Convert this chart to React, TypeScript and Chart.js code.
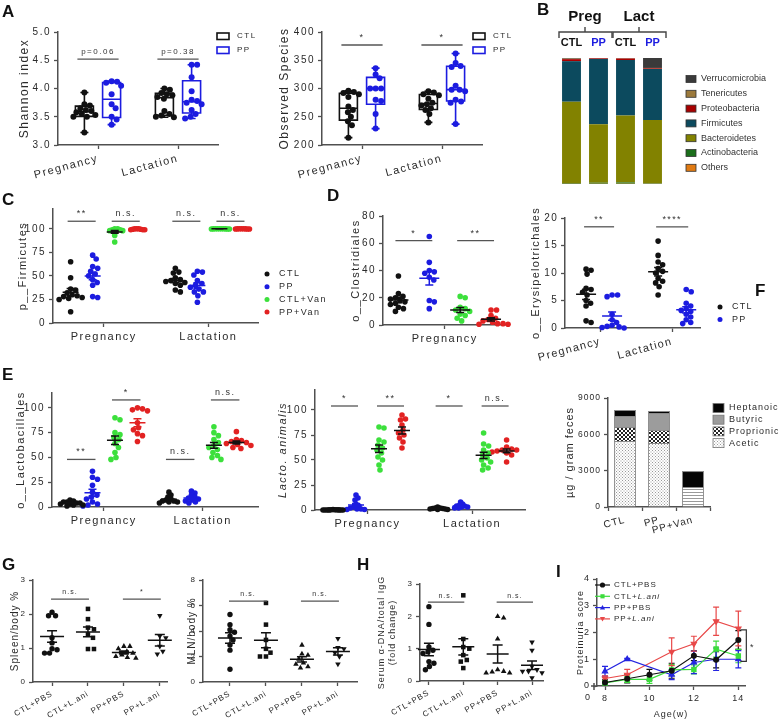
import React, { useEffect, useRef } from "react";
import { Chart, registerables } from "chart.js";
Chart.register(...registerables);

const FONT = "'Liberation Sans', Arial, Helvetica, sans-serif";
const NARROW = "'Liberation Sans Narrow', 'Arial Narrow', 'Liberation Sans', Arial, sans-serif";
const AX = "#505050";
const TXT = "#2a2a2a";
const BLACK = "#111111";
const BLUE = "#1c1ce0";
const GREEN = "#3ce03c";
const RED = "#e22222";

// ---------------- DATA ----------------
const phaseLabels = ["Pregnancy", "Lactation"];
const ctlPpLabels = ["CTL", "PP"];
const vanLabels = ["CTL", "PP", "CTL+Van", "PP+Van"];
const treatLabels = ["CTL+PBS", "CTL+L.ani", "PP+PBS", "PP+L.ani"];

// A: Shannon index
const shannonPregCTL = [3.93, 3.72, 3.7, 3.65, 3.62, 3.6, 3.58, 3.55, 3.53, 3.5, 3.5, 3.22];
const shannonPregPP = [4.13, 4.12, 4.1, 4.05, 3.9, 3.72, 3.65, 3.5, 3.45, 3.36];
const shannonLactCTL = [4.0, 3.98, 3.92, 3.9, 3.88, 3.85, 3.82, 3.6, 3.55, 3.52, 3.5, 3.49];
const shannonLactPP = [4.42, 4.42, 4.2, 3.95, 3.8, 3.78, 3.75, 3.72, 3.62, 3.55, 3.5, 3.47];
const shannonTicks = [3.0, 3.5, 4.0, 4.5, 5.0];
// A: Observed species
const speciesPregCTL = [296, 294, 292, 290, 285, 268, 262, 258, 250, 242, 235, 213];
const speciesPregPP = [336, 325, 318, 300, 300, 300, 280, 278, 255, 229];
const speciesLactCTL = [295, 293, 290, 288, 282, 275, 272, 270, 265, 262, 255, 240];
const speciesLactPP = [362, 345, 340, 338, 305, 298, 298, 295, 280, 277, 275, 237];
const speciesTicks = [200, 250, 300, 350, 400];

// B: phylum composition (%)
const phylumBars = ["CTL", "PP", "CTL", "PP"];
const phylumNames = ["Others", "Actinobacteria", "Bacteroidetes", "Firmicutes", "Proteobacteria", "Tenericutes", "Verrucomicrobia"];
const phylumOthers = [0.2, 0.2, 0.2, 0.2];
const phylumActino = [0.6, 0.8, 1.0, 0.5];
const phylumBactero = [64.5, 46.5, 53.2, 50.0];
const phylumFirmi = [32.2, 51.7, 44.0, 40.5];
const phylumProteo = [1.6, 0.5, 1.2, 0.6];
const phylumTeneri = [0.4, 0.1, 0.2, 0.3];
const phylumVerruco = [0.5, 0.2, 0.2, 7.9];
const phylumColors = ["#e07a12", "#1b6e1b", "#828200", "#0c4a5e", "#a80000", "#9c7a3c", "#3a3a3a"];

// C: p__Firmicutes
const firmPregCTL = [65, 48, 36, 35, 32, 30, 29, 28, 27, 26, 25, 12];
const firmPregPP = [72, 68, 60, 58, 55, 52, 50, 46, 43, 40, 28, 27];
const firmPregCTLVan = [100, 100, 99, 99, 98, 98, 97, 93, 86];
const firmPregPPVan = [100, 100, 100, 99.5, 99.5, 99, 99, 99];
const firmLactCTL = [58, 54, 53, 48, 46, 45, 44, 43, 42, 40, 35, 33];
const firmLactPP = [55, 54, 51, 45, 42, 40, 38, 36, 33, 33, 29, 22];
const firmLactCTLVan = [100, 100, 99.8, 99.9, 100, 99.7, 100, 99.9, 100, 99.8];
const firmLactPPVan = [100, 99.9, 99.8, 100, 99.7, 99.9, 100, 99.8];
const pctTicks = [0, 25, 50, 75, 100];

// D: o__Clostridiales (pregnancy)
const closPregCTL = [36, 23, 21, 20, 19, 18, 17, 16, 15, 13, 12, 10];
const closPregPP = [65, 46, 40, 39, 38, 35, 33, 18, 17, 12];
const closPregCTLVan = [21, 20, 13, 12, 11, 10, 8, 7, 5, 3];
const closPregPPVan = [11, 11, 7, 5, 4, 3, 2, 1, 1, 0.5, 0.5];
const closTicks = [0, 20, 40, 60, 80];
// D: o__Erysipelotrichales
const eryPregCTL = [10.7, 10.5, 9.8, 7.2, 7.0, 6.5, 6.0, 5.0, 4.5, 4.0, 1.3, 1.0];
const eryPregPP = [6.0, 6.0, 5.7, 2.5, 1.5, 1.0, 0.5, 0.3, 0.2, 0.1, 0];
const eryLactCTL = [15.8, 13.2, 12.0, 11.5, 10.8, 10.3, 10.0, 9.0, 8.5, 8.2, 7.5, 6.0];
const eryLactPP = [7.0, 6.6, 4.5, 4.0, 3.5, 3.2, 3.0, 2.5, 2.0, 1.5, 1.0, 0.8];
const eryTicks = [0, 5, 10, 15, 20];

// E: o__Lactobacillales
const lactoPregCTL = [7, 6, 5, 5, 4, 4, 3, 3, 2, 2, 1];
const lactoPregPP = [36, 30, 28, 22, 15, 12, 10, 8, 5, 3, 2, 1];
const lactoPregCTLVan = [90, 88, 75, 73, 70, 68, 64, 60, 55, 50, 48];
const lactoPregPPVan = [100, 99, 98, 97, 85, 80, 78, 74, 72, 66];
const lactoLactCTL = [15, 12, 10, 8, 7, 6, 6, 5, 5, 4];
const lactoLactPP = [16, 14, 12, 10, 9, 8, 7, 6, 5, 4];
const lactoLactCTLVan = [81, 75, 72, 68, 65, 62, 60, 58, 55, 52, 50, 48];
const lactoLactPPVan = [76, 68, 67, 66, 65, 64, 63, 62, 60, 59];
// E: Lacto. animalis
const animPregCTL = [0.5, 0.3, 0.2, 0.2, 0.1, 0.1, 0, 0, 0, 0, 0];
const animPregPP = [15, 12, 10, 6, 4, 3, 2, 1, 1, 0.5, 0.5];
const animPregCTLVan = [83, 82, 70, 68, 65, 62, 60, 57, 53, 50, 45, 40];
const animPregPPVan = [95, 91, 90, 85, 80, 77, 75, 72, 68, 62];
const animLactCTL = [3, 2, 2, 1.5, 1.5, 1, 1, 0.5, 0.5];
const animLactPP = [8, 6, 5, 4, 4, 3, 3, 2, 2];
const animLactCTLVan = [77, 66, 64, 60, 57, 55, 52, 50, 48, 45, 42, 40];
const animLactPPVan = [70, 63, 61, 60, 60, 59, 58, 57, 55, 48];

// F: short chain fatty acids (ug / gram feces)
const scfaGroups = ["CTL", "PP", "PP+Van"];
const scfaAcetic = [5450, 5285, 1650];
const scfaProprionic = [1155, 1075, 0];
const scfaButyric = [910, 1400, 0];
const scfaHeptanoic = [495, 165, 1320];
const scfaTicks = [0, 3000, 6000, 9000];

// G: spleen / body %
const spleenCtlPbs = [2.05, 1.95, 1.95, 1.3, 1.15, 0.98, 0.95, 0.85, 0.85];
const spleenCtlLani = [2.15, 1.85, 1.6, 1.55, 1.4, 1.3, 0.97, 0.97];
const spleenPpPbs = [1.05, 1.05, 0.98, 0.9, 0.85, 0.8, 0.75, 0.72, 0.7];
const spleenPpLani = [1.95, 1.35, 1.3, 1.05, 0.9, 0.82];
// G: MLN / body %
const mlnCtlPbs = [5.3, 4.5, 4.1, 3.9, 3.6, 3.3, 2.9, 2.5, 1.0];
const mlnCtlLani = [6.2, 4.5, 3.3, 2.6, 2.3, 2.0, 2.0];
const mlnPpPbs = [2.9, 2.2, 2.1, 1.8, 1.5, 1.4, 1.2, 1.1];
const mlnPpLani = [3.4, 2.7, 2.6, 2.3, 2.0, 1.4];

// H: serum anti-dsDNA / total IgG (fold change)
const dnaCtlPbs = [2.3, 1.75, 1.05, 0.95, 0.9, 0.85, 0.6, 0.55, 0.45, 0.35];
const dnaCtlLani = [2.65, 1.3, 1.05, 1.0, 0.8, 0.65, 0.6, 0.4];
const dnaPpPbs = [2.0, 1.95, 1.3, 0.35, 0.3, 0.25, 0.25, 0.28];
const dnaPpLani = [1.2, 0.95, 0.45, 0.35, 0.3, 0.3, 0.25, 0.1];

// I: proteinuria score
const ageWeeks = [8, 9, 10, 11, 12, 13, 14];
const protCtlPbs = [0.13, 0.27, 0.42, 0.57, 1.13, 0.98, 1.72];
const protCtlPbsErr = [0.1, 0.15, 0.2, 0.28, 0.18, 0.3, 0.35];
const protCtlLani = [0.12, 0.25, 0.25, 0.6, 0.62, 1.38, 1.12];
const protCtlLaniErr = [0.08, 0.12, 0.15, 0.2, 0.17, 0.3, 0.25];
const protPpPbs = [0.55, 1.0, null, 0.42, 0.88, 1.0, 1.0];
const protPpPbsErr = [0.18, 0.03, null, 0.18, 0.42, 0.42, 0.32];
const protPpLani = [0.28, 0.42, null, 1.28, 1.58, 2.42, 2.15];
const protPpLaniErr = [0.1, 0.2, null, 0.52, 0.28, 0.53, 0.65];
const ageTicks = [8, 10, 12, 14];
const scoreTicks = [0, 1, 2, 3, 4];

// ---------------- HELPERS ----------------
type Frame = { L: number; T: number; R: number; B: number; yw: number; xh: number; pt: number; pr: number };
type Rect = { x: number; y: number; w: number; h: number };
const rectOf = (f: Frame): Rect => ({ x: f.L - f.yw, y: f.T - f.pt, w: f.R - f.L + f.yw + f.pr, h: f.B - f.T + f.pt + f.xh });

const fnt = (size: number, o: { bold?: boolean; italic?: boolean; family?: string } = {}) =>
  `${o.italic ? "italic " : ""}${o.bold ? "bold " : ""}${size}px ${o.family || FONT}`;

function txt(ctx: any, s: string, x: number, y: number, f: string, color = TXT, align = "left", base = "middle") {
  ctx.save();
  ctx.font = f;
  ctx.fillStyle = color;
  ctx.textAlign = align;
  ctx.textBaseline = base;
  ctx.fillText(s, x, y);
  ctx.restore();
}

function rich(ctx: any, parts: [string, boolean][], x: number, y: number, size: number, color = TXT) {
  let cx = x;
  ctx.save();
  ctx.fillStyle = color;
  ctx.textAlign = "left";
  ctx.textBaseline = "middle";
  for (const [t, it] of parts) {
    ctx.font = fnt(size, { italic: it });
    ctx.fillText(t, cx, y);
    cx += ctx.measureText(t).width;
  }
  ctx.restore();
}

function drawMarker(ctx: any, shape: string, x: number, y: number, r: number, color: string, rot = 0) {
  ctx.save();
  ctx.fillStyle = color;
  ctx.beginPath();
  if (shape === "rect") ctx.rect(x - r * 0.8, y - r * 0.8, r * 1.6, r * 1.6);
  else if (shape === "triangle") {
    const s = rot ? -1 : 1;
    ctx.moveTo(x, y - s * r);
    ctx.lineTo(x + r, y + s * r * 0.75);
    ctx.lineTo(x - r, y + s * r * 0.75);
    ctx.closePath();
  } else ctx.arc(x, y, r, 0, Math.PI * 2);
  ctx.fill();
  ctx.restore();
}

const spacing = (ls: number) => ({
  id: "letterSpacing",
  beforeUpdate(chart: any) { chart.ctx.letterSpacing = ls + "px"; },
  beforeLayout(chart: any) { chart.ctx.letterSpacing = ls + "px"; },
  beforeDraw(chart: any) { chart.ctx.letterSpacing = ls + "px"; },
});

const gridOpts = { drawOnChartArea: false, drawTicks: true, tickLength: 4, color: AX, tickColor: AX, tickWidth: 1.3 };
const borderOpts = { display: true, color: AX, width: 1.5 };

function yScale(f: Frame, min: number, max: number, ticks: number[], fmt: (v: number) => string, size: number,
  title: string | string[], titleSize: number, italic = false) {
  return {
    type: "linear", position: "left", min, max,
    afterBuildTicks: (s: any) => { s.ticks = ticks.map((v) => ({ value: v })); },
    afterFit: (s: any) => { s.width = f.yw; s.paddingTop = 0; s.paddingBottom = 0; },
    ticks: { font: { family: FONT, size }, color: TXT, padding: 3, callback: (v: any) => fmt(Number(v)) },
    grid: gridOpts, border: borderOpts,
    title: { display: true, text: title, color: TXT, font: { family: FONT, size: titleSize, style: italic ? "italic" : "normal" }, padding: { top: 4, bottom: 4 } },
  };
}

function xLinear(f: Frame, min: number, max: number, ticks: { v: number; label: string }[], size: number, rot: number) {
  return {
    type: "linear", position: "bottom", min, max,
    afterBuildTicks: (s: any) => { s.ticks = ticks.map((t) => ({ value: t.v })); },
    afterFit: (s: any) => { s.height = f.xh; s.paddingLeft = 0; s.paddingRight = 0; },
    ticks: { autoSkip: false, minRotation: rot, maxRotation: rot, font: { family: FONT, size }, color: TXT, padding: 3,
      callback: (_v: any, i: number) => (ticks[i] ? ticks[i].label : "") },
    grid: gridOpts, border: borderOpts,
  };
}

const baseOpts = (f: Frame) => ({
  responsive: false, animation: false, events: [],
  layout: { padding: { left: 0, top: f.pt, right: f.pr, bottom: 0 } },
  plugins: { legend: { display: false }, tooltip: { enabled: false }, title: { display: false } },
});

function swarm(values: number[], pxPerY: number, r: number, gap: number): number[] {
  const order = values.map((_, i) => i).sort((a, b) => values[b] - values[a]);
  const placed: { x: number; y: number }[] = [];
  const out = values.map(() => 0);
  const d = 2 * r * gap;
  for (const i of order) {
    const y = values[i] * pxPerY;
    let chosen = 0;
    for (let k = 0; k < 160; k++) {
      const cand = (k % 2 === 1 ? 1 : -1) * Math.ceil(k / 2) * 0.5;
      if (placed.every((p) => (p.x - cand) ** 2 + (p.y - y) ** 2 >= d * d)) { chosen = cand; break; }
    }
    placed.push({ x: chosen, y });
    out[i] = chosen;
  }
  return out;
}

function meanSem(v: number[]) {
  const n = v.length;
  const m = v.reduce((a, b) => a + b, 0) / n;
  const sd = Math.sqrt(v.reduce((a, b) => a + (b - m) ** 2, 0) / (n - 1));
  return { m, se: sd / Math.sqrt(n) };
}
function quart(sorted: number[], p: number) {
  const pos = (sorted.length + 1) * p;
  const lo = Math.floor(pos);
  const fr = pos - lo;
  if (lo < 1) return sorted[0];
  if (lo >= sorted.length) return sorted[sorted.length - 1];
  return sorted[lo - 1] + fr * (sorted[lo] - sorted[lo - 1]);
}
function boxStats(v: number[]) {
  const s = [...v].sort((a, b) => a - b);
  return { min: s[0], max: s[s.length - 1], q1: quart(s, 0.25), med: quart(s, 0.5), q3: quart(s, 0.75) };
}

type Group = { values: number[]; color: string; shape?: string; rot?: number; mean?: string; gap?: number; r?: number };
type Sig = { a: number; b: number; y: number; t: string };
type DotSpec = {
  frame: Frame; xMin: number; xMax: number; yMin: number; yMax: number; yTicks: number[]; yFmt?: (v: number) => string;
  xPos: number[]; xTicks: { v: number; label: string }[]; xRot: number; xSize: number; tickSize: number;
  groups: Group[]; r: number; box?: boolean; boxW?: number; meanW?: number; capW?: number;
  sig: Sig[]; sigPad: number; sigSize: number;
  yTitle: string | string[]; titleSize: number; titleItalic?: boolean; ls: number;
  extra?: (ctx: any) => void;
};

function dotConfig(s: DotSpec) {
  const f = s.frame;
  const rc = rectOf(f);
  const pxX = (f.R - f.L) / (s.xMax - s.xMin);
  const pxY = (f.B - f.T) / (s.yMax - s.yMin);
  const datasets = s.groups.map((g, gi) => {
    const r = g.r ?? s.r;
    const off = swarm(g.values, pxY, r, g.gap ?? 0.9);
    return {
      data: g.values.map((v, i) => ({ x: s.xPos[gi] + off[i] / pxX, y: v })),
      backgroundColor: g.color, borderColor: g.color, borderWidth: 0,
      pointRadius: r, pointHoverRadius: r, pointStyle: g.shape ?? "circle", pointRotation: g.rot ?? 0, clip: false,
    };
  });
  const deco = {
    id: "deco",
    beforeDatasetsDraw(chart: any) {
      if (!s.box) return;
      const ctx = chart.ctx, xs = chart.scales.x, ys = chart.scales.y;
      ctx.save();
      ctx.lineWidth = 1.6;
      s.groups.forEach((g, gi) => {
        const st = boxStats(g.values);
        const cx = xs.getPixelForValue(s.xPos[gi]);
        const hw = (s.boxW ?? 18) / 2;
        const y = (v: number) => ys.getPixelForValue(v);
        ctx.strokeStyle = g.color;
        ctx.beginPath();
        ctx.rect(cx - hw, y(st.q3), 2 * hw, y(st.q1) - y(st.q3));
        ctx.moveTo(cx - hw, y(st.med)); ctx.lineTo(cx + hw, y(st.med));
        ctx.moveTo(cx, y(st.q3)); ctx.lineTo(cx, y(st.max));
        ctx.moveTo(cx, y(st.q1)); ctx.lineTo(cx, y(st.min));
        ctx.moveTo(cx - 4, y(st.max)); ctx.lineTo(cx + 4, y(st.max));
        ctx.moveTo(cx - 4, y(st.min)); ctx.lineTo(cx + 4, y(st.min));
        ctx.stroke();
      });
      ctx.restore();
    },
    afterDatasetsDraw(chart: any) {
      const ctx = chart.ctx, xs = chart.scales.x, ys = chart.scales.y;
      ctx.save();
      if (!s.box) {
        ctx.lineWidth = 1.5;
        s.groups.forEach((g, gi) => {
          const { m, se } = meanSem(g.values);
          const cx = xs.getPixelForValue(s.xPos[gi]);
          const mw = s.meanW ?? 9, cw = s.capW ?? 4;
          const ym = ys.getPixelForValue(m), y1 = ys.getPixelForValue(m + se), y2 = ys.getPixelForValue(m - se);
          ctx.strokeStyle = g.mean ?? g.color;
          ctx.beginPath();
          ctx.moveTo(cx - mw, ym); ctx.lineTo(cx + mw, ym);
          ctx.moveTo(cx, y1); ctx.lineTo(cx, y2);
          ctx.moveTo(cx - cw, y1); ctx.lineTo(cx + cw, y1);
          ctx.moveTo(cx - cw, y2); ctx.lineTo(cx + cw, y2);
          ctx.stroke();
        });
      }
      ctx.lineWidth = 1.3;
      ctx.strokeStyle = "#555";
      s.sig.forEach((q) => {
        const x1 = xs.getPixelForValue(s.xPos[q.a]) - s.sigPad;
        const x2 = xs.getPixelForValue(s.xPos[q.b]) + s.sigPad;
        const y = ys.getPixelForValue(q.y);
        ctx.beginPath(); ctx.moveTo(x1, y); ctx.lineTo(x2, y); ctx.stroke();
        txt(ctx, q.t, (x1 + x2) / 2, y - 3, fnt(s.sigSize), "#333", "center", "bottom");
      });
      if (s.extra) {
        ctx.translate(-rc.x, -rc.y);
        s.extra(ctx);
      }
      ctx.restore();
    },
  };
  return {
    type: "scatter",
    data: { datasets },
    options: {
      ...baseOpts(f),
      scales: {
        x: xLinear(f, s.xMin, s.xMax, s.xTicks, s.xSize, s.xRot),
        y: yScale(f, s.yMin, s.yMax, s.yTicks, s.yFmt ?? ((v) => String(v)), s.tickSize, s.yTitle, s.titleSize, !!s.titleItalic),
      },
    },
    plugins: [spacing(s.ls), deco],
  };
}

function boxLegend(ctx: any, x: number, y: number) {
  ctx.save();
  ctx.lineWidth = 1.6;
  [[ctlPpLabels[0], BLACK], [ctlPpLabels[1], BLUE]].forEach(([lab, col], i) => {
    ctx.strokeStyle = col;
    ctx.strokeRect(x, y + i * 14 - 3, 12, 6.5);
    txt(ctx, lab, x + 20, y + i * 14, fnt(8), TXT);
  });
  ctx.restore();
}

function dotLegend(ctx: any, labels: string[], colors: string[], x: number, y: number, dy: number, size: number) {
  labels.forEach((lab, i) => {
    drawMarker(ctx, "circle", x, y + i * dy, 2.5, colors[i]);
    txt(ctx, lab, x + 12, y + i * dy, fnt(size), TXT);
  });
}

// ---------------- FRAMES ----------------
const fA1: Frame = { L: 58, T: 32, R: 218, B: 145, yw: 45, xh: 40, pt: 12, pr: 50 };
const fA2: Frame = { L: 322, T: 32, R: 482, B: 145, yw: 49, xh: 40, pt: 12, pr: 50 };
const fC: Frame = { L: 53, T: 209, R: 258, B: 323, yw: 41, xh: 28, pt: 8, pr: 80 };
const fD1: Frame = { L: 383, T: 216, R: 508, B: 325, yw: 38, xh: 26, pt: 8, pr: 8 };
const fD2: Frame = { L: 565, T: 218, R: 700, B: 328, yw: 40, xh: 40, pt: 22, pr: 70 };
const fE1: Frame = { L: 52, T: 393, R: 258, B: 507, yw: 42, xh: 26, pt: 8, pr: 8 };
const fE2: Frame = { L: 315, T: 390, R: 525, B: 510, yw: 43, xh: 26, pt: 8, pr: 8 };
const fF: Frame = { L: 608, T: 398, R: 710, B: 507, yw: 49, xh: 40, pt: 8, pr: 68 };
const fG1: Frame = { L: 33, T: 580, R: 167, B: 682, yw: 28, xh: 40, pt: 8, pr: 5 };
const fG2: Frame = { L: 203, T: 580, R: 357, B: 682, yw: 21, xh: 40, pt: 8, pr: 5 };
const fH: Frame = { L: 420, T: 584, R: 543, B: 681, yw: 48, xh: 40, pt: 8, pr: 5 };
const fI: Frame = { L: 597, T: 579, R: 745, B: 686, yw: 26, xh: 36, pt: 8, pr: 33 };

const boxPos = [1 - 0.34, 1 + 0.34, 3 - 0.34, 3 + 0.34];
const phaseTicks2 = [{ v: 1, label: phaseLabels[0] }, { v: 3, label: phaseLabels[1] }];

const makeA1 = () => dotConfig({
  frame: fA1, xMin: 0, xMax: 4, yMin: 3, yMax: 5, yTicks: shannonTicks, yFmt: (v) => v.toFixed(1),
  xPos: boxPos, xTicks: phaseTicks2, xRot: 15, xSize: 11, tickSize: 10,
  groups: [
    { values: shannonPregCTL, color: BLACK }, { values: shannonPregPP, color: BLUE },
    { values: shannonLactCTL, color: BLACK }, { values: shannonLactPP, color: BLUE },
  ],
  r: 3, box: true, boxW: 18,
  sig: [{ a: 0, b: 1, y: 4.52, t: "p=0.06" }, { a: 2, b: 3, y: 4.52, t: "p=0.38" }], sigPad: 7, sigSize: 8,
  yTitle: "Shannon index", titleSize: 12, ls: 1.5,
  extra: (ctx) => boxLegend(ctx, 217, 36),
});

const makeA2 = () => dotConfig({
  frame: fA2, xMin: 0, xMax: 4, yMin: 200, yMax: 400, yTicks: speciesTicks,
  xPos: boxPos, xTicks: phaseTicks2, xRot: 15, xSize: 11, tickSize: 10,
  groups: [
    { values: speciesPregCTL, color: BLACK }, { values: speciesPregPP, color: BLUE },
    { values: speciesLactCTL, color: BLACK }, { values: speciesLactPP, color: BLUE },
  ],
  r: 3, box: true, boxW: 18,
  sig: [{ a: 0, b: 1, y: 377, t: "*" }, { a: 2, b: 3, y: 377, t: "*" }], sigPad: 7, sigSize: 9,
  yTitle: "Observed Species", titleSize: 12, ls: 1.5,
  extra: (ctx) => boxLegend(ctx, 473, 36),
});

const vanColors = [BLACK, BLUE, GREEN, RED];

const makeC = () => dotConfig({
  frame: fC, xMin: 0.2, xMax: 9.5, yMin: 0, yMax: 121, yTicks: pctTicks,
  xPos: [1, 2, 3, 4, 5.75, 6.75, 7.75, 8.75],
  xTicks: [{ v: 2.5, label: phaseLabels[0] }, { v: 7.25, label: phaseLabels[1] }], xRot: 0, xSize: 11, tickSize: 10,
  groups: [
    { values: firmPregCTL, color: BLACK }, { values: firmPregPP, color: BLUE },
    { values: firmPregCTLVan, color: GREEN, mean: BLACK, gap: 0.45 }, { values: firmPregPPVan, color: RED, gap: 0.35 },
    { values: firmLactCTL, color: BLACK }, { values: firmLactPP, color: BLUE },
    { values: firmLactCTLVan, color: GREEN, mean: BLACK, gap: 0.3 }, { values: firmLactPPVan, color: RED, gap: 0.3 },
  ],
  r: 2.8, meanW: 8, capW: 4,
  sig: [{ a: 0, b: 1, y: 108, t: "**" }, { a: 2, b: 3, y: 108, t: "n.s." }, { a: 4, b: 5, y: 108, t: "n.s." }, { a: 6, b: 7, y: 108, t: "n.s." }],
  sigPad: 3, sigSize: 9,
  yTitle: "p__Firmicutes", titleSize: 11, ls: 1.5,
  extra: (ctx) => dotLegend(ctx, vanLabels, vanColors, 267, 274, 12.7, 9),
});

const makeD1 = () => dotConfig({
  frame: fD1, xMin: 0.5, xMax: 4.55, yMin: 0, yMax: 80, yTicks: closTicks,
  xPos: [1, 2, 3, 4], xTicks: [{ v: 2.5, label: phaseLabels[0] }], xRot: 0, xSize: 11, tickSize: 10,
  groups: [
    { values: closPregCTL, color: BLACK }, { values: closPregPP, color: BLUE },
    { values: closPregCTLVan, color: GREEN, mean: BLACK }, { values: closPregPPVan, color: RED, mean: BLACK },
  ],
  r: 2.8, meanW: 10, capW: 4,
  sig: [{ a: 0, b: 1, y: 62, t: "*" }, { a: 2, b: 3, y: 62, t: "**" }], sigPad: 3, sigSize: 9,
  yTitle: "o__Clostridiales", titleSize: 11, ls: 1.5,
});

const makeD2 = () => dotConfig({
  frame: fD2, xMin: 0.19, xMax: 5.38, yMin: 0, yMax: 20, yTicks: eryTicks,
  xPos: [1, 2, 3.77, 4.85],
  xTicks: [{ v: 1.55, label: phaseLabels[0] }, { v: 4.31, label: phaseLabels[1] }], xRot: 15, xSize: 11, tickSize: 10,
  groups: [
    { values: eryPregCTL, color: BLACK }, { values: eryPregPP, color: BLUE },
    { values: eryLactCTL, color: BLACK }, { values: eryLactPP, color: BLUE },
  ],
  r: 2.8, meanW: 10, capW: 4,
  sig: [{ a: 0, b: 1, y: 18.4, t: "**" }, { a: 2, b: 3, y: 18.4, t: "****" }], sigPad: 2, sigSize: 9,
  yTitle: "o__Erysipelotrichales", titleSize: 11, ls: 1.3,
  extra: (ctx) => dotLegend(ctx, ctlPpLabels, [BLACK, BLUE], 720, 307, 12.5, 9),
});

const makeE1 = () => dotConfig({
  frame: fE1, xMin: 0.2, xMax: 9.36, yMin: 0, yMax: 115, yTicks: pctTicks,
  xPos: [1, 2, 3, 4, 5.4, 6.4, 7.4, 8.4],
  xTicks: [{ v: 2.5, label: phaseLabels[0] }, { v: 6.9, label: phaseLabels[1] }], xRot: 0, xSize: 11, tickSize: 10,
  groups: [
    { values: lactoPregCTL, color: BLACK, gap: 0.6 }, { values: lactoPregPP, color: BLUE },
    { values: lactoPregCTLVan, color: GREEN, mean: BLACK }, { values: lactoPregPPVan, color: RED },
    { values: lactoLactCTL, color: BLACK, gap: 0.6 }, { values: lactoLactPP, color: BLUE, gap: 0.7 },
    { values: lactoLactCTLVan, color: GREEN, mean: BLACK }, { values: lactoLactPPVan, color: RED, mean: BLACK },
  ],
  r: 2.8, meanW: 8, capW: 4,
  sig: [{ a: 0, b: 1, y: 48, t: "**" }, { a: 2, b: 3, y: 108, t: "*" }, { a: 4, b: 5, y: 48, t: "n.s." }, { a: 6, b: 7, y: 108, t: "n.s." }],
  sigPad: 3, sigSize: 9,
  yTitle: "o__Lactobacillales", titleSize: 11, ls: 1.5,
});

const makeE2 = () => dotConfig({
  frame: fE2, xMin: 0.217, xMax: 9.35, yMin: 0, yMax: 120, yTicks: pctTicks,
  xPos: [1, 2, 3, 4, 5.55, 6.55, 7.55, 8.55],
  xTicks: [{ v: 2.5, label: phaseLabels[0] }, { v: 7.05, label: phaseLabels[1] }], xRot: 0, xSize: 11, tickSize: 10,
  groups: [
    { values: animPregCTL, color: BLACK, gap: 0.35 }, { values: animPregPP, color: BLUE, gap: 0.6 },
    { values: animPregCTLVan, color: GREEN, mean: BLACK }, { values: animPregPPVan, color: RED, mean: BLACK },
    { values: animLactCTL, color: BLACK, gap: 0.4 }, { values: animLactPP, color: BLUE, gap: 0.5 },
    { values: animLactCTLVan, color: GREEN, mean: BLACK }, { values: animLactPPVan, color: RED, mean: BLACK },
  ],
  r: 2.8, meanW: 8, capW: 4,
  sig: [{ a: 0, b: 1, y: 104, t: "*" }, { a: 2, b: 3, y: 104, t: "**" }, { a: 4, b: 5, y: 104, t: "*" }, { a: 6, b: 7, y: 104, t: "n.s." }],
  sigPad: 2, sigSize: 9,
  yTitle: "Lacto. animalis", titleSize: 11, titleItalic: true, ls: 1.5,
});

const treatTicks = treatLabels.map((l, i) => ({ v: i + 1, label: l }));
const treatShapes = (vals: number[][]): Group[] => [
  { values: vals[0], color: BLACK, shape: "circle" },
  { values: vals[1], color: BLACK, shape: "rect", r: 3.2 },
  { values: vals[2], color: BLACK, shape: "triangle", r: 3.2 },
  { values: vals[3], color: BLACK, shape: "triangle", rot: 180, r: 3.2 },
];

const makeG1 = () => dotConfig({
  frame: fG1, xMin: 0.47, xMax: 4.2, yMin: 0, yMax: 3, yTicks: [0, 1, 2, 3],
  xPos: [1, 2, 3, 4], xTicks: treatTicks, xRot: 30, xSize: 8, tickSize: 8,
  groups: treatShapes([spleenCtlPbs, spleenCtlLani, spleenPpPbs, spleenPpLani]),
  r: 2.7, meanW: 12, capW: 5,
  sig: [{ a: 0, b: 1, y: 2.44, t: "n.s." }, { a: 2, b: 3, y: 2.44, t: "*" }], sigPad: 1, sigSize: 7,
  yTitle: "Spleen/body %", titleSize: 10, ls: 1,
});

const makeG2 = () => dotConfig({
  frame: fG2, xMin: 0.25, xMax: 4.53, yMin: 0, yMax: 8, yTicks: [0, 2, 4, 6, 8],
  xPos: [1, 2, 3, 4], xTicks: treatTicks, xRot: 30, xSize: 8, tickSize: 8,
  groups: treatShapes([mlnCtlPbs, mlnCtlLani, mlnPpPbs, mlnPpLani]),
  r: 2.7, meanW: 12, capW: 5,
  sig: [{ a: 0, b: 1, y: 6.35, t: "n.s." }, { a: 2, b: 3, y: 6.35, t: "n.s." }], sigPad: 1, sigSize: 7,
  yTitle: "MLN/body %", titleSize: 10, ls: 1,
});

const makeH = () => dotConfig({
  frame: fH, xMin: 0.74, xMax: 4.32, yMin: 0, yMax: 3, yTicks: [0, 1, 2, 3],
  xPos: [1, 2, 3, 4], xTicks: treatTicks, xRot: 30, xSize: 8, tickSize: 8,
  groups: treatShapes([dnaCtlPbs, dnaCtlLani, dnaPpPbs, dnaPpLani]),
  r: 2.7, meanW: 11, capW: 5,
  sig: [{ a: 0, b: 1, y: 2.44, t: "n.s." }, { a: 2, b: 3, y: 2.44, t: "n.s." }], sigPad: 1, sigSize: 7,
  yTitle: ["Serum \u03b1-DNA/total IgG", "(fold change)"], titleSize: 9, ls: 1,
});

// B: stacked phylum bars
const rB: Rect = { x: 530, y: 0, w: 248, h: 190 };
const makeB = () => {
  const series = [phylumOthers, phylumActino, phylumBactero, phylumFirmi, phylumProteo, phylumTeneri, phylumVerruco];
  const deco = {
    id: "bdeco",
    afterDraw(chart: any) {
      const ctx = chart.ctx, xs = chart.scales.x;
      ctx.save();
      ctx.translate(-rB.x, -rB.y);
      const px = (i: number) => xs.getPixelForValue(i) + rB.x;
      ctx.strokeStyle = "#444";
      ctx.lineWidth = 1.4;
      [[0, 1, "Preg"], [2, 3, "Lact"]].forEach(([a, b, lab]: any) => {
        const x1 = px(a) - 12.5, x2 = px(b) + 13.5, xm = (px(a) + px(b)) / 2;
        ctx.beginPath();
        ctx.moveTo(x1, 38); ctx.lineTo(x1, 32); ctx.lineTo(x2, 32); ctx.lineTo(x2, 38);
        ctx.moveTo(xm, 32); ctx.lineTo(xm, 27);
        ctx.stroke();
        txt(ctx, lab, xm, 17, fnt(15, { bold: true }), "#111", "center");
      });
      const names = [...phylumNames].reverse();
      const cols = [...phylumColors].reverse();
      names.forEach((n, i) => {
        const y = 79 + i * 14.8;
        ctx.fillStyle = cols[i];
        ctx.fillRect(686, y - 3.5, 10, 7);
        ctx.strokeStyle = "#333"; ctx.lineWidth = 0.8;
        ctx.strokeRect(686, y - 3.5, 10, 7);
        txt(ctx, n, 701, y, fnt(9, { family: NARROW }), "#333");
      });
      ctx.restore();
    },
  };
  return {
    type: "bar",
    data: {
      labels: phylumBars,
      datasets: series.map((v, i) => ({ label: phylumNames[i], data: v, backgroundColor: phylumColors[i], borderWidth: 0, barPercentage: 0.7, categoryPercentage: 1 })),
    },
    options: {
      responsive: false, animation: false, events: [],
      layout: { padding: { left: 28, right: 112, top: 0, bottom: 6 } },
      plugins: { legend: { display: false }, tooltip: { enabled: false } },
      scales: {
        x: {
          type: "category", position: "top", stacked: true,
          afterFit: (s: any) => { s.height = 58; s.paddingLeft = 0; s.paddingRight = 0; },
          grid: { display: false, drawTicks: false }, border: { display: false },
          ticks: { autoSkip: false, minRotation: 0, maxRotation: 0, padding: 8, font: { family: FONT, size: 11, weight: "bold" }, color: (c: any) => (c.index % 2 ? BLUE : "#111") },
        },
        y: { stacked: true, display: false, min: 0, max: 100 },
      },
    },
    plugins: [spacing(0), deco],
  };
};

// F: SCFA stacked bars with patterns
function pattern(kind: string) {
  const c = document.createElement("canvas");
  const g = c.getContext("2d") as CanvasRenderingContext2D;
  if (kind === "dots") {
    c.width = 3; c.height = 3;
    g.fillStyle = "#fff"; g.fillRect(0, 0, 3, 3);
    g.fillStyle = "#9a9a9a"; g.fillRect(0, 0, 1, 1); g.fillRect(1.5, 1.5, 1, 1);
  } else if (kind === "check") {
    c.width = 4; c.height = 4;
    g.fillStyle = "#fff"; g.fillRect(0, 0, 4, 4);
    g.fillStyle = "#222"; g.fillRect(0, 0, 2, 2); g.fillRect(2, 2, 2, 2);
  } else {
    c.width = 4; c.height = 3;
    g.fillStyle = "#fff"; g.fillRect(0, 0, 4, 3);
    g.fillStyle = "#999"; g.fillRect(0, 0, 4, 1);
  }
  const p = g.createPattern(c, "repeat");
  return p as any;
}

const makeF = () => {
  const dots = pattern("dots"), check = pattern("check"), lines = pattern("lines");
  const rc = rectOf(fF);
  const fills = [[dots, dots, lines], check, "#9c9c9c", "#050505"];
  const names = ["Acetic", "Proprionic", "Butyric", "Heptanoic"];
  const series = [scfaAcetic, scfaProprionic, scfaButyric, scfaHeptanoic];
  const deco = {
    id: "fdeco",
    afterDraw(chart: any) {
      const ctx = chart.ctx;
      ctx.save();
      ctx.translate(-rc.x, -rc.y);
      const legendFill = [dots, check, "#9c9c9c", "#050505"];
      [3, 2, 1, 0].forEach((k, i) => {
        const y = 408 + i * 11.7;
        ctx.fillStyle = legendFill[k];
        ctx.fillRect(713, y - 4.5, 11, 9);
        ctx.strokeStyle = "#777"; ctx.lineWidth = 0.8;
        ctx.strokeRect(713, y - 4.5, 11, 9);
        txt(ctx, names[k], 729, y, fnt(9), TXT);
      });
      ctx.restore();
    },
  };
  return {
    type: "bar",
    data: {
      labels: scfaGroups,
      datasets: series.map((v, i) => ({ label: names[i], data: v, backgroundColor: fills[i], borderColor: "#8a8a8a", borderWidth: 1, barPercentage: 0.65, categoryPercentage: 1 })),
    },
    options: {
      ...baseOpts(fF),
      scales: {
        x: {
          type: "category", stacked: true, position: "bottom",
          afterFit: (s: any) => { s.height = fF.xh; s.paddingLeft = 0; s.paddingRight = 0; },
          grid: gridOpts, border: borderOpts,
          ticks: { autoSkip: false, minRotation: 15, maxRotation: 15, padding: 3, font: { family: FONT, size: 10 }, color: TXT },
        },
        y: { ...yScale(fF, 0, 9000, scfaTicks, (v) => String(v), 8.5, "\u00b5g / gram feces", 11), stacked: true },
      },
    },
    plugins: [spacing(1), deco],
  };
};

// I: proteinuria line chart
const iSeries = [
  { label: [["CTL+PBS", false]], v: protCtlPbs, e: protCtlPbsErr, color: "#111", shape: "circle", rot: 0 },
  { label: [["CTL+", false], ["L.ani", true]], v: protCtlLani, e: protCtlLaniErr, color: "#3cdc3c", shape: "rect", rot: 0 },
  { label: [["PP+PBS", false]], v: protPpPbs, e: protPpPbsErr, color: "#2424e0", shape: "triangle", rot: 0 },
  { label: [["PP+", false], ["L.ani", true]], v: protPpLani, e: protPpLaniErr, color: "#e84848", shape: "triangle", rot: 180 },
];

const makeI = () => {
  const rc = rectOf(fI);
  const deco = {
    id: "ideco",
    beforeDatasetsDraw(chart: any) {
      const ctx = chart.ctx, xs = chart.scales.x, ys = chart.scales.y;
      ctx.save();
      ctx.lineWidth = 1.2;
      iSeries.forEach((sr) => {
        ctx.strokeStyle = sr.color;
        ageWeeks.forEach((w, i) => {
          const v = sr.v[i], e = sr.e[i];
          if (v == null || e == null) return;
          const x = xs.getPixelForValue(w);
          const y1 = ys.getPixelForValue(v + e), y2 = ys.getPixelForValue(v - e);
          ctx.beginPath();
          ctx.moveTo(x, y1); ctx.lineTo(x, y2);
          ctx.moveTo(x - 3, y1); ctx.lineTo(x + 3, y1);
          ctx.moveTo(x - 3, y2); ctx.lineTo(x + 3, y2);
          ctx.stroke();
        });
      });
      ctx.restore();
    },
    afterDraw(chart: any) {
      const ctx = chart.ctx, xs = chart.scales.x, ys = chart.scales.y;
      ctx.save();
      const x0 = xs.getPixelForValue(xs.min) - 9;
      txt(ctx, "0", x0, fI.B - rc.y + 11.5, fnt(9), TXT, "center");
      ctx.strokeStyle = AX; ctx.lineWidth = 1.5;
      ctx.beginPath();
      ctx.moveTo(xs.getPixelForValue(xs.min) - 6, fI.B - rc.y); ctx.lineTo(xs.getPixelForValue(xs.min), fI.B - rc.y);
      ctx.moveTo(xs.getPixelForValue(xs.min) - 3, fI.B - rc.y - 3); ctx.lineTo(xs.getPixelForValue(xs.min) - 3, fI.B - rc.y + 4);
      ctx.stroke();
      const bx = xs.getPixelForValue(14) + 2;
      const yt = ys.getPixelForValue(2.1), yb = ys.getPixelForValue(0.92);
      ctx.lineWidth = 1.2; ctx.strokeStyle = "#333";
      ctx.beginPath();
      ctx.moveTo(bx, yt); ctx.lineTo(bx + 6, yt); ctx.lineTo(bx + 6, yb); ctx.lineTo(bx, yb);
      ctx.stroke();
      txt(ctx, "*", bx + 12, (yt + yb) / 2 + 2, fnt(9), "#333", "center");
      ctx.translate(-rc.x, -rc.y);
      iSeries.forEach((sr, i) => {
        const y = 585 + i * 11.3;
        ctx.strokeStyle = sr.color; ctx.lineWidth = 1.2;
        ctx.beginPath(); ctx.moveTo(595, y); ctx.lineTo(610, y); ctx.stroke();
        drawMarker(ctx, sr.shape, 602.5, y, 2.6, sr.color, sr.rot);
        rich(ctx, sr.label as any, 614, y, 8, TXT);
      });
      ctx.restore();
    },
  };
  return {
    type: "line",
    data: {
      datasets: iSeries.map((sr) => ({
        label: sr.label.map((p) => p[0]).join(""),
        data: ageWeeks.map((w, i) => ({ x: w, y: sr.v[i] })),
        borderColor: sr.color, backgroundColor: sr.color, borderWidth: 1.2,
        pointRadius: sr.shape === "circle" ? 2.4 : 3, pointStyle: sr.shape, pointRotation: sr.rot,
        spanGaps: true, tension: 0, clip: false,
      })),
    },
    options: {
      ...baseOpts(fI),
      scales: {
        x: {
          ...xLinear(fI, 7.64, 14.3, ageTicks.map((t) => ({ v: t, label: String(t) })), 9, 0),
          title: { display: true, text: "Age(w)", color: TXT, font: { family: FONT, size: 9 }, padding: { top: 2, bottom: 2 } },
        },
        y: yScale(fI, 0, 4, scoreTicks, (v) => String(v), 9, "Proteinuria score", 9),
      },
    },
    plugins: [spacing(1), deco],
  };
};

// ---------------- COMPONENTS ----------------
function ChartCanvas({ rect, make }: { rect: Rect; make: () => any }) {
  const ref = useRef<HTMLCanvasElement | null>(null);
  useEffect(() => {
    if (!ref.current) return;
    const chart = new Chart(ref.current, make());
    return () => chart.destroy();
  }, []);
  return (
    <canvas ref={ref} width={rect.w} height={rect.h}
      style={{ position: "absolute", left: rect.x, top: rect.y, width: rect.w, height: rect.h }} />
  );
}

const PANELS: { rect: Rect; make: () => any }[] = [
  { rect: rectOf(fA1), make: makeA1 },
  { rect: rectOf(fA2), make: makeA2 },
  { rect: rB, make: makeB },
  { rect: rectOf(fC), make: makeC },
  { rect: rectOf(fD1), make: makeD1 },
  { rect: rectOf(fD2), make: makeD2 },
  { rect: rectOf(fE1), make: makeE1 },
  { rect: rectOf(fE2), make: makeE2 },
  { rect: rectOf(fF), make: makeF },
  { rect: rectOf(fG1), make: makeG1 },
  { rect: rectOf(fG2), make: makeG2 },
  { rect: rectOf(fH), make: makeH },
  { rect: rectOf(fI), make: makeI },
];

const LETTERS: [string, number, number][] = [
  ["A", 2, 3], ["B", 537, 1], ["C", 2, 191], ["D", 327, 187], ["E", 2, 366],
  ["F", 755, 282], ["G", 2, 556], ["H", 357, 556], ["I", 556, 563],
];

export default function App() {
  return (
    <div style={{ position: "absolute", left: 0, top: 0, width: 778, height: 722, background: "#fff", overflow: "hidden" }}>
      {PANELS.map((p, i) => <ChartCanvas key={i} rect={p.rect} make={p.make} />)}
      {LETTERS.map(([t, x, y]) => (
        <div key={t} style={{ position: "absolute", left: x, top: y, font: `bold 17px ${FONT}`, lineHeight: "17px", color: "#111" }}>{t}</div>
      ))}
    </div>
  );
}
